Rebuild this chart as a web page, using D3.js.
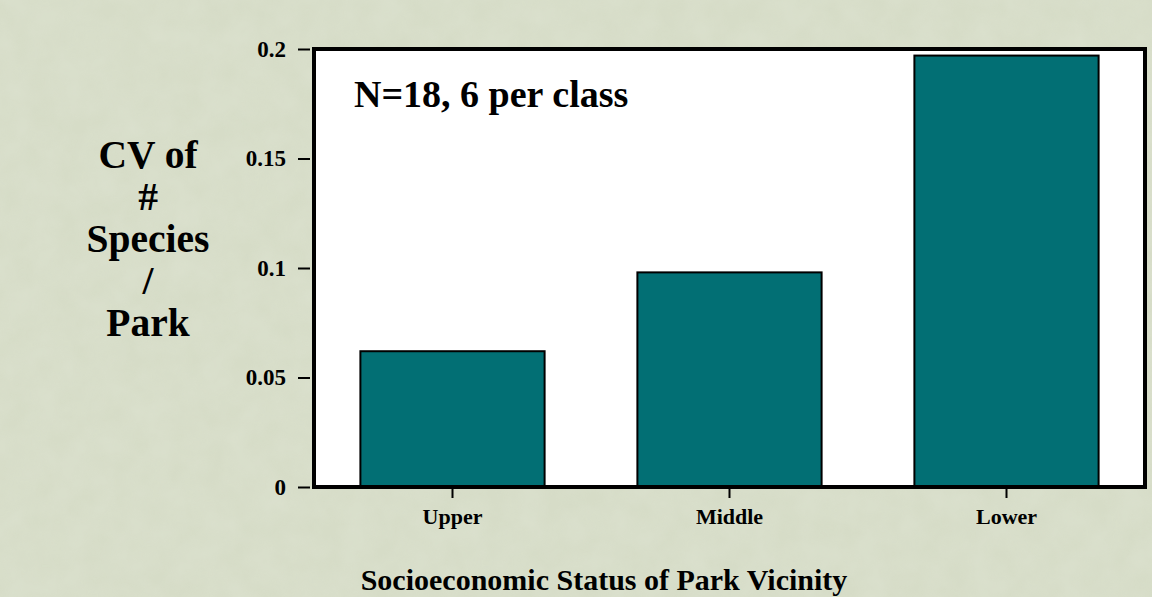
<!DOCTYPE html>
<html>
<head>
<meta charset="utf-8">
<script src="https://cdn.jsdelivr.net/npm/d3@7"></script>
<style>
  html, body { margin: 0; padding: 0; background: #d6dcc7; }
  svg { display: block; }
  text { font-family: "Liberation Serif", "Times New Roman", serif; font-weight: bold; fill: #000; }
</style>
</head>
<body>
<script>
const categories = ["Upper", "Middle", "Lower"];
const values = [0.062, 0.098, 0.197];
const yTicks = [0, 0.05, 0.1, 0.15, 0.2];
const yTickLabels = ["0", "0.05", "0.1", "0.15", "0.2"];
const yLabelLines = ["CV of", "#", "Species", "/", "Park"];
const xTitle = "Socioeconomic Status of Park Vicinity";
const note = "N=18, 6 per class";

const W = 1152, H = 597;
const plot = { left: 314, right: 1145, top: 49, bottom: 487 };

const svg = d3.select("body").append("svg").attr("width", W).attr("height", H);

// textured background
const defs = svg.append("defs");
const f = defs.append("filter").attr("id", "grain").attr("x", 0).attr("y", 0).attr("width", "100%").attr("height", "100%");
f.append("feTurbulence").attr("type", "fractalNoise").attr("baseFrequency", 0.035).attr("numOctaves", 3).attr("seed", 7).attr("result", "n");
f.append("feColorMatrix").attr("in", "n").attr("type", "matrix")
  .attr("values", "0 0 0 0 0.80  0 0 0 0 0.84  0 0 0 0 0.74  0 0 0 0.55 -0.1");
svg.append("rect").attr("width", W).attr("height", H).attr("fill", "#d6dcc7");
svg.append("rect").attr("width", W).attr("height", H).attr("filter", "url(#grain)").attr("opacity", 0.6);

const x = d3.scaleBand().domain(categories).range([plot.left, plot.right]).paddingInner(0.335).paddingOuter(0.1675);
const y = d3.scaleLinear().domain([0, 0.2]).range([plot.bottom, plot.top]);

// plot background
svg.append("rect")
  .attr("x", plot.left).attr("y", plot.top)
  .attr("width", plot.right - plot.left).attr("height", plot.bottom - plot.top)
  .attr("fill", "#fff");

// bars
svg.selectAll("rect.bar").data(categories).join("rect").attr("class", "bar")
  .attr("x", d => x(d)).attr("width", x.bandwidth())
  .attr("y", (d, i) => y(values[i])).attr("height", (d, i) => y(0) - y(values[i]))
  .attr("fill", "#026f74").attr("stroke", "#000").attr("stroke-width", 2);

// frame
svg.append("rect")
  .attr("x", plot.left).attr("y", plot.top)
  .attr("width", plot.right - plot.left).attr("height", plot.bottom - plot.top)
  .attr("fill", "none").attr("stroke", "#000").attr("stroke-width", 4);

// y axis
const yAxis = d3.axisLeft(y).tickValues(yTicks).tickFormat((d, i) => yTickLabels[i]).tickSize(12).tickPadding(12);
const gy = svg.append("g").attr("transform", `translate(${plot.left - 4},0)`).call(yAxis);
gy.select(".domain").remove();
gy.selectAll(".tick line").attr("stroke", "#000").attr("stroke-width", 2);
gy.selectAll(".tick text").attr("font-size", 23).attr("fill", "#000");
gy.attr("font-family", null).attr("font-size", null);

// x axis
const xAxis = d3.axisBottom(x).tickSize(9).tickPadding(10);
const gx = svg.append("g").attr("transform", `translate(0,${plot.bottom + 2})`).call(xAxis);
gx.select(".domain").remove();
gx.selectAll(".tick line").attr("stroke", "#000").attr("stroke-width", 2);
gx.selectAll(".tick text").attr("font-size", 22).attr("fill", "#000");
gx.attr("font-family", null).attr("font-size", null);

// note
svg.append("text").attr("x", 354).attr("y", 107).attr("font-size", 38).text(note);

// y label
svg.append("text").attr("text-anchor", "middle").attr("font-size", 39.5)
  .selectAll("tspan").data(yLabelLines).join("tspan")
  .attr("x", 148).attr("y", (d, i) => 168 + i * 42).text(d => d);

// x title
svg.append("text").attr("x", 604).attr("y", 590)
  .attr("text-anchor", "middle").attr("font-size", 30).text(xTitle);
</script>
</body>
</html>
